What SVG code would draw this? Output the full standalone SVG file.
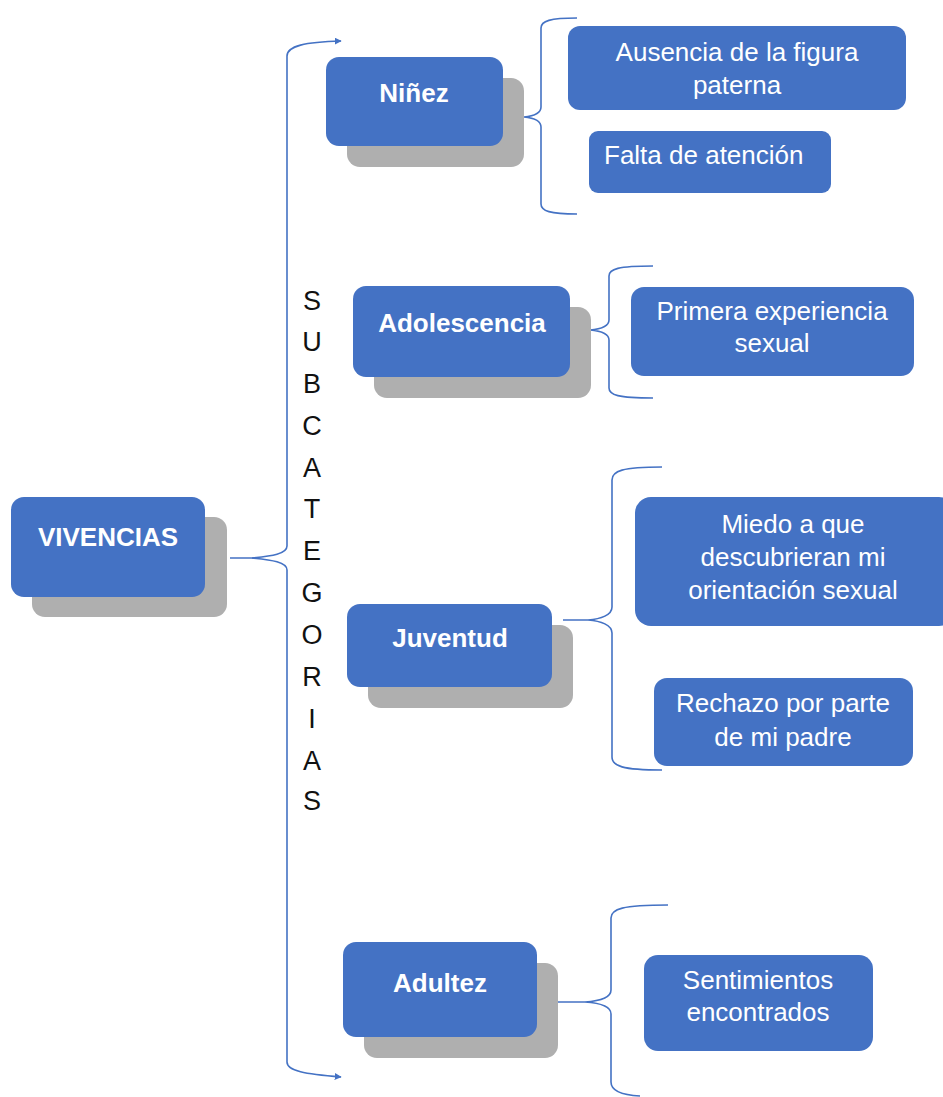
<svg xmlns="http://www.w3.org/2000/svg" width="943" height="1097" viewBox="0 0 943 1097">
<defs>
<style>
.box{fill:#4472C4;}
.sh{fill:#AFAFAF;}
.tb{font-family:"Liberation Sans",Arial,sans-serif;font-size:26px;font-weight:bold;fill:#fff;text-anchor:middle;}
.tr{font-family:"Liberation Sans",Arial,sans-serif;font-size:26px;fill:#fff;text-anchor:middle;}
.br{fill:none;stroke:#4472C4;stroke-width:1.6;}
.v{font-family:"Liberation Sans",Arial,sans-serif;font-size:27px;fill:#111;text-anchor:middle;}
</style>
<marker id="ah" viewBox="0 0 10 10" refX="9" refY="5" markerWidth="7" markerHeight="7" markerUnits="userSpaceOnUse" orient="auto">
<path d="M0,0 L10,5 L0,10 z" fill="#4472C4"/>
</marker>
</defs>
<rect width="943" height="1097" fill="#fff"/>

<g id="vivencias">
<rect class="sh" x="32" y="517" width="195" height="100" rx="13"/>
<rect class="box" x="11" y="497" width="194" height="100" rx="13"/>
<text class="tb" x="108" y="546">VIVENCIAS</text>
</g>

<g id="subcategorias">
<text class="v" x="312" y="310">S</text>
<text class="v" x="312" y="351">U</text>
<text class="v" x="312" y="393">B</text>
<text class="v" x="312" y="435">C</text>
<text class="v" x="312" y="477">A</text>
<text class="v" x="312" y="518">T</text>
<text class="v" x="312" y="560">E</text>
<text class="v" x="312" y="602">G</text>
<text class="v" x="312" y="644">O</text>
<text class="v" x="312" y="686">R</text>
<text class="v" x="312" y="728">I</text>
<text class="v" x="312" y="770">A</text>
<text class="v" x="312" y="810">S</text>
</g>

<g id="connectors">
<path class="br" d="M230,558 L252,558 C272,556 287,554 287,546 L287,56 C287,46 305,42 341,41" marker-end="url(#ah)"/>
<path class="br" d="M252,558 C272,560 287,562 287,570 L287,1062 C287,1071 305,1074 341,1077" marker-end="url(#ah)"/>
<path class="br" d="M510,117 L524,117 C534,116 541,113 541,107 L541,28 C541,21 550,18 577,18 M524,117 C534,118 541,121 541,127 L541,204 C541,211 550,214 577,214"/>
<path class="br" d="M571,330 L590,330 C601,329 609,326 609,320 L609,276 C609,269 618,266 653,266 M590,330 C601,331 609,334 609,340 L609,388 C609,395 618,398 653,398"/>
<path class="br" d="M563,620 L588,620 C601,619 612,615 612,607 L612,480 C612,471 622,467 662,467 M588,620 C601,621 612,625 612,633 L612,757 C612,766 622,770 662,770"/>
<path class="br" d="M555,1002 L585,1002 C600,1001 611,998 611,990 L611,918 C611,909 622,905 668,905 M585,1002 C600,1003 611,1006 611,1014 L611,1082 C611,1090 620,1095 640,1096"/>
</g>

<g id="ninez">
<rect class="sh" x="347" y="78" width="177" height="89" rx="13"/>
<rect class="box" x="326" y="57" width="177" height="89" rx="13"/>
<text class="tb" x="414" y="102">Niñez</text>
</g>

<g id="ausencia">
<rect class="box" x="568" y="26" width="338" height="84" rx="12"/>
<text class="tr" x="737" y="61">Ausencia de la figura</text>
<text class="tr" x="737" y="94">paterna</text>
</g>

<g id="falta">
<rect class="box" x="589" y="131" width="242" height="62" rx="9"/>
<text class="tr" x="604" y="164" style="text-anchor:start">Falta de atención</text>
</g>

<g id="adolescencia">
<rect class="sh" x="374" y="307" width="217" height="91" rx="13"/>
<rect class="box" x="353" y="286" width="217" height="91" rx="13"/>
<text class="tb" x="462" y="332">Adolescencia</text>
</g>

<g id="primera">
<rect class="box" x="631" y="287" width="283" height="89" rx="13"/>
<text class="tr" x="772" y="320">Primera experiencia</text>
<text class="tr" x="772" y="352">sexual</text>
</g>

<g id="juventud">
<rect class="sh" x="368" y="625" width="205" height="83" rx="13"/>
<rect class="box" x="347" y="604" width="205" height="83" rx="13"/>
<text class="tb" x="450" y="647">Juventud</text>
</g>

<g id="miedo">
<rect class="box" x="635" y="497" width="320" height="129" rx="16"/>
<text class="tr" x="793" y="533">Miedo a que</text>
<text class="tr" x="793" y="566">descubrieran mi</text>
<text class="tr" x="793" y="599">orientación sexual</text>
</g>

<g id="rechazo">
<rect class="box" x="654" y="678" width="259" height="88" rx="13"/>
<text class="tr" x="783" y="712">Rechazo por parte</text>
<text class="tr" x="783" y="746">de mi padre</text>
</g>

<g id="adultez">
<rect class="sh" x="364" y="963" width="194" height="95" rx="13"/>
<rect class="box" x="343" y="942" width="194" height="95" rx="13"/>
<text class="tb" x="440" y="992">Adultez</text>
</g>

<g id="sentimientos">
<rect class="box" x="644" y="955" width="229" height="96" rx="14"/>
<text class="tr" x="758" y="989">Sentimientos</text>
<text class="tr" x="758" y="1021">encontrados</text>
</g>
</svg>
